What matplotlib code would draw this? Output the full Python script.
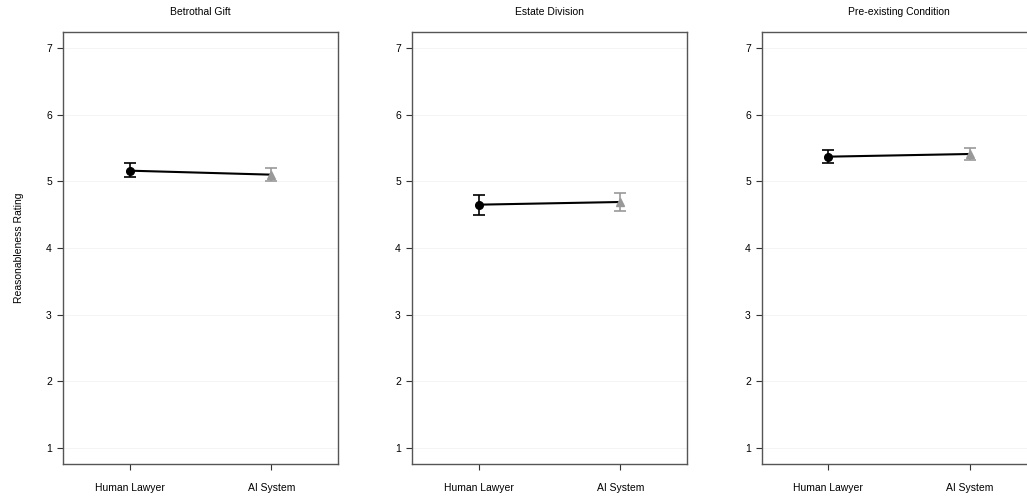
import matplotlib
matplotlib.use('Agg')
import matplotlib.pyplot as plt

plt.rcParams['font.family'] = ['Liberation Sans', 'DejaVu Sans']

# data
panels = ['Betrothal Gift', 'Estate Division', 'Pre-existing Condition']
conditions = ['Human Lawyer', 'AI System']
means = [[5.16, 5.10], [4.65, 4.69], [5.37, 5.41]]
lower = [[5.06, 5.00], [4.50, 4.55], [5.27, 5.32]]
upper = [[5.27, 5.20], [4.79, 4.83], [5.47, 5.50]]
yticks = [1, 2, 3, 4, 5, 6, 7]

colors = ['black', '#999999']
markers = ['o', '^']

fig = plt.figure(figsize=(10.27, 4.97), dpi=100)
W, H = 1027, 497
lefts = [63, 412, 762]
widths = [275, 275, 274]
top, bottom = 32, 464

for i, name in enumerate(panels):
    ax = fig.add_axes([lefts[i] / W, 1 - bottom / H, widths[i] / W, (bottom - top) / H])
    x = [1, 2]
    ax.plot(x, means[i], color='black', lw=1.5, zorder=2)
    for j in range(2):
        err = [[means[i][j] - lower[i][j]], [upper[i][j] - means[i][j]]]
        ax.errorbar(x[j], means[i][j], yerr=err, fmt=markers[j], color=colors[j],
                    ms=5.5, capsize=4.5, elinewidth=1.2, capthick=1.2, zorder=3)
    ax.set_xlim(0.53, 2.47)
    ax.set_ylim(0.76, 7.24)
    ax.set_yticks(yticks)
    ax.set_xticks(x)
    ax.set_xticklabels(conditions)
    for t in yticks:
        ax.axhline(t, color='#f2f2f2', lw=0.6, zorder=0)
    for s in ax.spines.values():
        s.set_color('#555555')
        s.set_linewidth(1.0)
    ax.tick_params(axis='both', labelsize=7.5, length=4, width=0.8, color='#333333', pad=4)
    ax.tick_params(axis='x', pad=10)
    ax.set_title(name, fontsize=7.5, pad=12)
    if i == 0:
        ax.set_ylabel('Reasonableness Rating', fontsize=7.5, labelpad=16)

fig.savefig('out.png', dpi=100)
